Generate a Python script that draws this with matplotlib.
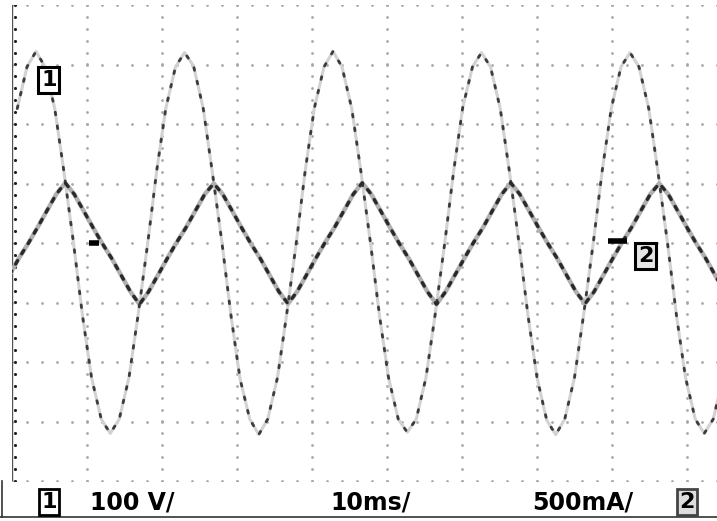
import numpy as np
import matplotlib.pyplot as plt

# scope settings
MS_PER_DIV = 10
V_PER_DIV = 100
MA_PER_DIV = 500

# channel 1: voltage (ms, V)
ch1_t = [0.7, 2.0,
         3.2, 4.4, 5.7, 6.9, 8.2, 9.4, 10.6, 11.9, 13.1, 14.3, 15.6, 16.8, 18.1, 19.3, 20.5, 21.8,
         23.0, 24.2, 25.5, 26.7, 28.0, 29.2, 30.4, 31.7, 32.9, 34.1, 35.4, 36.6, 37.9, 39.1, 40.3, 41.6,
         42.8, 44.0, 45.3, 46.5, 47.8, 49.0, 50.2, 51.5, 52.7, 53.9, 55.2, 56.4, 57.7, 58.9, 60.1, 61.4,
         62.6, 63.8, 65.1, 66.3, 67.6, 68.8, 70.0, 71.3, 72.5, 73.7, 75.0, 76.2, 77.5, 78.7, 79.9, 81.2,
         82.4, 83.6, 84.9, 86.1, 87.4, 88.6, 89.8, 91.1, 92.3, 93.5, 94.8]
ch1_v = [226, 296,
         322, 296, 226, 122, 0, -122, -226, -296, -320, -296, -226, -122, 0, 122, 226, 296,
         320, 298, 226, 120, 0, -122, -228, -296, -322, -296, -226, -122, 0, 122, 226, 296,
         322, 296, 226, 122, 0, -122, -226, -296, -318, -296, -226, -122, 0, 122, 228, 296,
         320, 296, 226, 122, 0, -122, -226, -298, -322, -296, -226, -122, 0, 122, 226, 296,
         320, 296, 226, 122, 0, -122, -226, -296, -320, -296, -226]

# channel 2: current (ms, mA)
ch2_t = [-0.3, 0.9, 2.2, 3.4, 4.6, 5.9,
         7.1, 8.3, 9.6, 10.8, 12.0, 13.3, 14.5, 15.8, 17.0, 18.2, 19.5, 20.7, 21.9, 23.2, 24.4, 25.7,
         26.9, 28.1, 29.4, 30.6, 31.8, 33.1, 34.3, 35.6, 36.8, 38.0, 39.3, 40.5, 41.7, 43.0, 44.2, 45.5,
         46.7, 47.9, 49.2, 50.4, 51.6, 52.9, 54.1, 55.4, 56.6, 57.8, 59.1, 60.3, 61.5, 62.8, 64.0, 65.3,
         66.5, 67.7, 69.0, 70.2, 71.4, 72.7, 73.9, 75.2, 76.4, 77.6, 78.9, 80.1, 81.3, 82.6, 83.8, 85.1,
         86.3, 87.5, 88.8, 90.0, 91.2, 92.5, 93.7, 95.0]
ch2_i = [-265, -130, 0, 130, 265, 410,
         505, 410, 265, 130, 0, -130, -265, -410, -515, -410, -265, -130, 0, 130, 265, 410,
         500, 410, 265, 130, 0, -130, -265, -410, -510, -410, -265, -130, 0, 130, 265, 410,
         505, 410, 265, 130, 0, -130, -265, -410, -515, -410, -265, -130, 0, 130, 265, 410,
         505, 410, 265, 130, 0, -130, -265, -410, -510, -410, -265, -130, 0, 130, 265, 410,
         500, 410, 265, 130, 0, -130, -265, -410]

W, H = 717, 521
fig = plt.figure(figsize=(W / 100, H / 100), dpi=100)
fig.patch.set_facecolor('white')

# screen: left edge at x=12px, 75 px per div (10 divs, cropped on the right), 8 divs tall
ax = fig.add_axes([12 / W, 40 / H, 750 / W, 476 / H])
ax.set_xlim(0, 10)
ax.set_ylim(-4, 4)
ax.axis('off')

# graticule dots
dot = dict(color='#a8a8a8', s=4, linewidths=0, zorder=1)
sub_y = np.arange(-4, 4.01, 0.2)
sub_x = np.arange(0, 10.01, 0.2)
for gx in range(1, 10):
    ax.scatter(np.full_like(sub_y, gx), sub_y, **dot)
for gy in range(-4, 5):
    ax.scatter(sub_x, np.full_like(sub_x, gy), **dot)
ax.plot([0, 0], [-4, 4], color='#555555', lw=1.0, zorder=2)
ax.scatter(np.full_like(sub_y, 0.04), sub_y, color='#222222', s=5, linewidths=0, zorder=2)

x1 = np.array(ch1_t) / MS_PER_DIV
y1 = np.array(ch1_v) / V_PER_DIV
x2 = np.array(ch2_t) / MS_PER_DIV
y2 = np.array(ch2_i) / MA_PER_DIV

# voltage trace: faint, speckled
ax.plot(x1, y1, color='#d2d2d2', lw=2.2, zorder=3, solid_capstyle='round')
ax.plot(x1, y1, color='#3c3c3c', lw=2.0, zorder=4,
        linestyle=(0, (1.0, 4.0)), dash_capstyle='round')
# current trace: denser
ax.plot(x2, y2, color='#b0b0b0', lw=3.2, zorder=3, solid_capstyle='round')
ax.plot(x2, y2, color='#2a2a2a', lw=2.4, zorder=4,
        linestyle=(0, (1.2, 2.4)), dash_capstyle='round')

# channel markers
box = dict(boxstyle='square,pad=0.12', facecolor='white', edgecolor='black', lw=2.2)
ax.text(0.49, 2.74, '1', fontsize=16, fontweight='bold', ha='center', va='center',
        bbox=box, zorder=6)
ax.text(8.45, -0.22, '2', fontsize=16, fontweight='bold', ha='center', va='center',
        bbox=dict(box, facecolor='#e6e6e6'), zorder=6)
ax.plot([7.95, 8.2], [0.03, 0.03], color='black', lw=4, solid_capstyle='butt', zorder=6)
ax.plot([1.03, 1.16], [0.0, 0.0], color='black', lw=4, solid_capstyle='butt', zorder=6)

# status line
fig.add_artist(plt.Line2D([0, 1], [4 / H, 4 / H], color='#333333', lw=1.2))
fig.add_artist(plt.Line2D([2 / W, 2 / W], [4 / H, 40 / H], color='#333333', lw=1.2))
ty = (H - 502) / H
fig.text(49 / W, ty, '1', fontsize=16, fontweight='bold', ha='center', va='center',
         bbox=dict(boxstyle='square,pad=0.12', facecolor='white', edgecolor='black', lw=2.0))
fig.text(90 / W, ty, '100 V/', fontsize=17, fontweight='bold', ha='left', va='center')
fig.text(330 / W, ty, '10ms/', fontsize=17, fontweight='bold', ha='left', va='center')
fig.text(532 / W, ty, '500mA/', fontsize=17, fontweight='bold', ha='left', va='center')
fig.text(687 / W, ty, '2', fontsize=16, fontweight='bold', ha='center', va='center',
         bbox=dict(boxstyle='square,pad=0.12', facecolor='#dddddd', edgecolor='#444444', lw=2.0))

fig.savefig('out.png', dpi=100, facecolor='white')
